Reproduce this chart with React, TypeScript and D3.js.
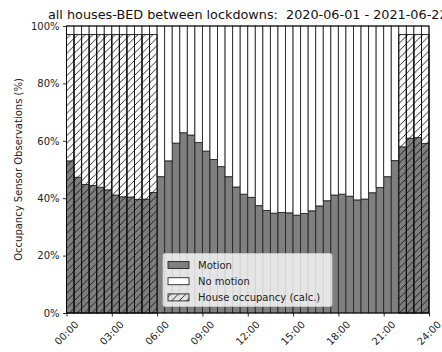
import React, { useRef, useEffect } from 'react';
import * as d3 from 'd3';

// half-hour bins, 00:00 .. 23:30
const motion = [
  53, 47.3, 44.8, 44.4, 43.8, 42.9, 41.1, 40.5, 40.4, 39.6, 39.7, 42,
  47.5, 53, 59.2, 62.8, 62, 59.4, 56.4, 53.5, 51, 47.5, 43.9, 41.4,
  40.3, 37.4, 35.7, 34.8, 35.0, 34.9, 34.1, 34.7, 35.6, 37.3, 39.1, 41.1,
  41.4, 40.7, 39.4, 39.7, 41.9, 43.7, 47.5, 53.1, 57.9, 60.9, 61.1, 59.1,
];
const noMotion = [
  47, 52.7, 55.2, 55.6, 56.2, 57.1, 58.9, 59.5, 59.6, 60.4, 60.3, 58,
  52.5, 47, 40.8, 37.2, 38, 40.6, 43.6, 46.5, 49, 52.5, 56.1, 58.6,
  59.7, 62.6, 64.3, 65.2, 65.0, 65.1, 65.9, 65.3, 64.4, 62.7, 60.9, 58.9,
  58.6, 59.3, 60.6, 60.3, 58.1, 56.3, 52.5, 46.9, 42.1, 39.1, 38.9, 40.9,
];
const occupancy: (number | null)[] = [
  97, 97, 97, 97, 97, 97, 97, 97, 97, 97, 97, 97,
  null, null, null, null, null, null, null, null, null, null, null, null,
  null, null, null, null, null, null, null, null, null, null, null, null,
  null, null, null, null, null, null, null, null, 97, 97, 97, 97,
];
const xTicks = [0, 3, 6, 9, 12, 15, 18, 21, 24];
const yTicks = [0, 20, 40, 60, 80, 100];
const legendItems = ['Motion', 'No motion', 'House occupancy (calc.)'];
const title = 'all houses-BED between lockdowns:  2020-06-01 - 2021-06-22';

const W = 442;
const H = 352;
const FONT = 'DejaVu Sans, sans-serif';

const App: React.FC = () => {
  const svgRef = useRef<SVGSVGElement | null>(null);

  useEffect(() => {
    document.body.style.margin = '0';
    if (!svgRef.current) return;
    const svg = d3.select(svgRef.current);
    svg.selectAll('*').remove();

    const margin = { top: 26, right: 13, bottom: 39, left: 66.5 };
    const x = d3.scaleLinear().domain([0, 24]).range([margin.left, W - margin.right]);
    const y = d3.scaleLinear().domain([0, 100]).range([H - margin.bottom, margin.top]);
    const step = 0.5;

    const defs = svg.append('defs');
    const pat = defs.append('pattern')
      .attr('id', 'hatch')
      .attr('patternUnits', 'userSpaceOnUse')
      .attr('width', 7.5)
      .attr('height', 7.5);
    pat.append('path')
      .attr('d', 'M0,7.5 L7.5,0 M-1.875,1.875 L1.875,-1.875 M5.625,9.375 L9.375,5.625')
      .attr('stroke', '#111')
      .attr('stroke-width', 0.9);

    svg.append('rect').attr('width', W).attr('height', H).attr('fill', '#fff');

    const bins = motion.map((m, i) => ({
      i,
      t: i * step,
      m,
      n: noMotion[i],
      o: occupancy[i],
    }));

    // Motion bars
    svg.append('g').selectAll('rect')
      .data(bins)
      .enter()
      .append('rect')
      .attr('x', d => x(d.t))
      .attr('width', d => x(d.t + step) - x(d.t))
      .attr('y', d => y(d.m))
      .attr('height', d => y(0) - y(d.m))
      .attr('fill', '#7f7f7f')
      .attr('stroke', '#262626')
      .attr('stroke-width', 0.9);

    // No motion bars (stacked)
    svg.append('g').selectAll('rect')
      .data(bins)
      .enter()
      .append('rect')
      .attr('x', d => x(d.t))
      .attr('width', d => x(d.t + step) - x(d.t))
      .attr('y', d => y(d.m + d.n))
      .attr('height', d => y(d.m) - y(d.m + d.n))
      .attr('fill', '#fff')
      .attr('stroke', '#262626')
      .attr('stroke-width', 0.9);

    // House occupancy hatched overlay
    svg.append('g').selectAll('rect')
      .data(bins.filter(d => d.o !== null))
      .enter()
      .append('rect')
      .attr('x', d => x(d.t))
      .attr('width', d => x(d.t + step) - x(d.t))
      .attr('y', d => y(d.o as number))
      .attr('height', d => y(0) - y(d.o as number))
      .attr('fill', 'url(#hatch)')
      .attr('stroke', '#111')
      .attr('stroke-width', 0.9);

    // frame
    svg.append('rect')
      .attr('x', x(0))
      .attr('y', y(100))
      .attr('width', x(24) - x(0))
      .attr('height', y(0) - y(100))
      .attr('fill', 'none')
      .attr('stroke', '#000')
      .attr('stroke-width', 0.8);

    // y axis
    const yAxis = svg.append('g')
      .attr('transform', `translate(${x(0)},0)`)
      .call(d3.axisLeft(y).tickValues(yTicks).tickSize(3.5).tickPadding(3.5).tickFormat(d => `${d}%`));
    yAxis.select('.domain').remove();
    yAxis.selectAll('line').attr('stroke', '#000').attr('stroke-width', 0.8);
    yAxis.selectAll('text').attr('font-family', FONT).attr('font-size', 10).attr('fill', '#222');

    // x axis
    const xAxis = svg.append('g')
      .attr('transform', `translate(0,${y(0)})`)
      .call(d3.axisBottom(x).tickValues(xTicks).tickSize(3.5).tickFormat(() => ''));
    xAxis.select('.domain').remove();
    xAxis.selectAll('line').attr('stroke', '#000').attr('stroke-width', 0.8);

    svg.append('g').selectAll('text')
      .data(xTicks)
      .enter()
      .append('text')
      .attr('transform', d => `translate(${x(d)},${y(0) + 20}) rotate(-45)`)
      .attr('text-anchor', 'middle')
      .attr('dominant-baseline', 'central')
      .attr('font-family', FONT)
      .attr('font-size', 10)
      .attr('fill', '#222')
      .text(d => `${String(d).padStart(2, '0')}:00`);

    // y label
    svg.append('text')
      .attr('transform', `translate(18,${(y(0) + y(100)) / 2}) rotate(-90)`)
      .attr('text-anchor', 'middle')
      .attr('dominant-baseline', 'central')
      .attr('font-family', FONT)
      .attr('font-size', 10)
      .attr('fill', '#222')
      .text('Occupancy Sensor Observations (%)');

    // title
    svg.append('text')
      .attr('x', (x(0) + x(24)) / 2)
      .attr('y', 19)
      .attr('text-anchor', 'middle')
      .attr('font-family', FONT)
      .attr('font-size', 12.8)
      .attr('fill', '#111')
      .style('white-space', 'pre')
      .text(title);

    // legend
    const lg = svg.append('g');
    lg.append('rect')
      .attr('x', 163)
      .attr('y', 253.5)
      .attr('width', 169)
      .attr('height', 53)
      .attr('rx', 2)
      .attr('fill', '#fff')
      .attr('fill-opacity', 0.8)
      .attr('stroke', '#ccc')
      .attr('stroke-width', 0.8);
    const fills = ['#7f7f7f', '#fff', 'url(#hatch)'];
    legendItems.forEach((label, i) => {
      const cy = 265 + i * 16.2;
      lg.append('rect')
        .attr('x', 168)
        .attr('y', cy - 3.5)
        .attr('width', 21)
        .attr('height', 7)
        .attr('fill', fills[i])
        .attr('stroke', '#262626')
        .attr('stroke-width', 0.9);
      lg.append('text')
        .attr('x', 198)
        .attr('y', cy)
        .attr('dominant-baseline', 'central')
        .attr('font-family', FONT)
        .attr('font-size', 10)
        .attr('fill', '#222')
        .text(label);
    });
  }, []);

  return <svg ref={svgRef} width={W} height={H} style={{ display: 'block' }} />;
};

export default App;
